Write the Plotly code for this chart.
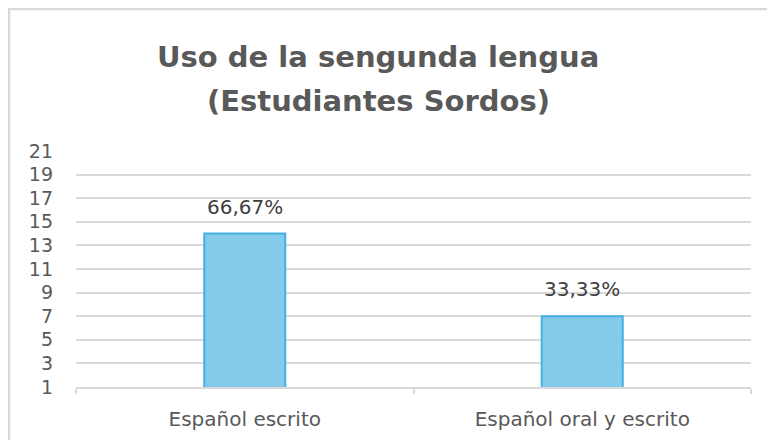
import plotly.graph_objects as go

categories = ["Español escrito", "Español oral y escrito"]
values = [14, 7]
y_ticks = list(range(1, 22, 2))
title_lines = ["Uso de la sengunda lengua", "(Estudiantes Sordos)"]

total = sum(values)
pct_labels = [f"{v / total * 100:.2f}%".replace(".", ",") for v in values]

# page body has an 8px margin, so the figure is sized to fit the window
OFF = 8
W, H = 775 - 2 * OFF, 448 - 2 * OFF
L = 76 - OFF
T = 151 - OFF
R = W - (751 - OFF)
B = H - (387 - OFF)
pw, ph = W - L - R, H - T - B

fig = go.Figure()
fig.add_trace(go.Bar(
    x=categories, y=values,
    marker=dict(color="#83CAEB", line=dict(color="#45B0E1", width=2)),
    hoverinfo="skip",
))

for c, v, t in zip(categories, values, pct_labels):
    fig.add_annotation(x=c, y=v, text=t, showarrow=False, yanchor="bottom",
                       yshift=13, font=dict(family="DejaVu Sans", size=20, color="#404040"))

def px_x(p):
    return (p - OFF - L) / pw

def px_y(p):
    return (H - B - (p - OFF)) / ph

for line, yc in zip(title_lines, [57, 101]):
    fig.add_annotation(xref="paper", yref="paper", x=px_x(378), y=px_y(yc), text=f"<b>{line}</b>",
                       showarrow=False, xanchor="center", yanchor="middle",
                       font=dict(family="DejaVu Sans", size=29, color="#595959"))

# chart border (left and top edges)
fig.add_shape(type="line", xref="paper", yref="paper", x0=px_x(9), x1=px_x(9), y0=px_y(9), y1=px_y(470),
              line=dict(color="#D9D9D9", width=2.5))
fig.add_shape(type="line", xref="paper", yref="paper", x0=px_x(8), x1=px_x(800), y0=px_y(9), y1=px_y(9),
              line=dict(color="#D9D9D9", width=2.5))

fig.update_layout(
    width=W, height=H,
    margin=dict(l=L, r=R, t=T, b=B, autoexpand=False),
    paper_bgcolor="white", plot_bgcolor="white",
    showlegend=False,
    bargap=0.76,
    xaxis=dict(showline=True, linecolor="#D9D9D9", linewidth=2,
               ticks="outside", tickson="boundaries", ticklen=5, tickcolor="#D9D9D9", tickwidth=2,
               ticklabelstandoff=13,
               tickfont=dict(family="DejaVu Sans", size=20, color="#595959"),
               showgrid=False),
    yaxis=dict(range=[1, 21], tickvals=y_ticks, showgrid=True, gridcolor="#D9D9D9", gridwidth=2,
               zeroline=False, showline=False, ticks="", ticklabelstandoff=22,
               tickfont=dict(family="DejaVu Sans", size=19, color="#595959")),
)

fig.write_html("out.html")
